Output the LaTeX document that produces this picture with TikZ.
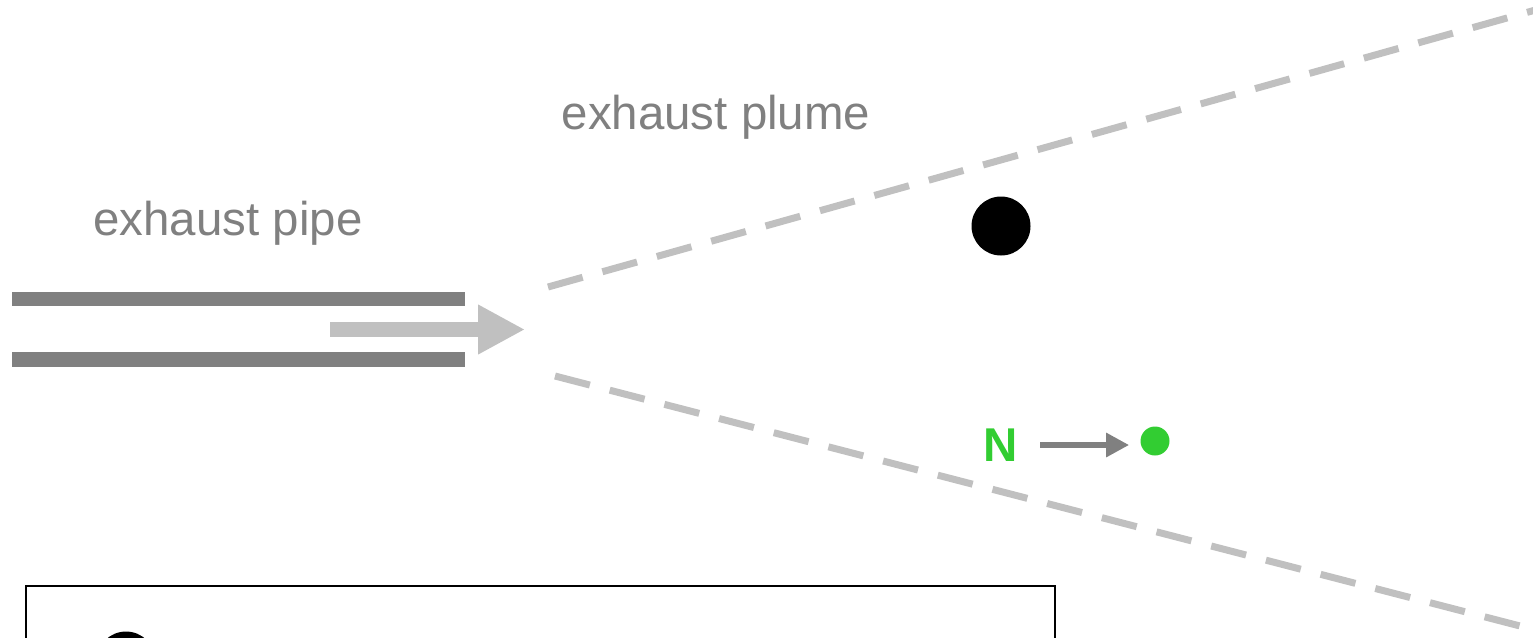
\documentclass[tikz,border=0pt]{standalone}
\usepackage{fontspec}
\setmainfont{Liberation Sans}
\usetikzlibrary{arrows.meta}
\definecolor{pipegray}{RGB}{128,128,128}
\definecolor{flowgray}{RGB}{192,192,192}
\definecolor{mygreen}{RGB}{50,205,50}

\begin{document}
\begin{tikzpicture}[x=0.02cm,y=-0.02cm,
  lbl/.style={text=pipegray, font=\fontsize{27}{32}\selectfont, inner sep=0},
  plume/.style={line width=0.14cm, color=flowgray, dash pattern=on 0.72cm off 0.41cm},
  dot/.style={circle, fill=#1, inner sep=0}]
\useasboundingbox (0,0) rectangle (1533,637);

% pipe walls
\draw[line width=0.29cm,color=pipegray] (12,299) -- (465,299);
\draw[line width=0.29cm,color=pipegray] (12,359.5) -- (465,359.5);
\node[lbl] (pipe) at (228,223) {exhaust pipe};

% flow out of the pipe
\coordinate (flowstart) at (330,329.5);
\coordinate (flowend) at (525,329.5);
\draw[-{Triangle[length=0.94cm,width=0.93cm]}, line width=0.3cm, color=flowgray] (flowstart) -- (flowend);

% plume edges
\coordinate (upA) at (548,287);
\coordinate (upB) at (1600,-8.1);
\coordinate (loA) at (555,376);
\coordinate (loB) at (1600,646.7);
\draw[plume] (upA) -- (upB);
\draw[plume] (loA) -- (loB);
\node[lbl] (plumelbl) at (716,117) {exhaust plume};

\node[dot=black, minimum size=1.18cm] (particle) at (1001,226) {};

% nitrogen
\node[text=mygreen, font=\fontsize{27}{32}\selectfont\bfseries, inner sep=0] (N) at (1001,445) {N};
\node[dot=mygreen, minimum size=0.58cm] (gdot) at (1155,441) {};
\draw[-{Triangle[length=0.46cm,width=0.46cm]}, line width=0.13cm, color=pipegray,
  shorten <=0.44cm, shorten >=0.22cm] (N.east) -- (N.east -| gdot.west);

% legend
\draw[line width=0.04cm] (26,586) rectangle (1055,720);
\node[dot=black, minimum size=1.18cm] (keydot) at (126,661) {};
\end{tikzpicture}
\end{document}
